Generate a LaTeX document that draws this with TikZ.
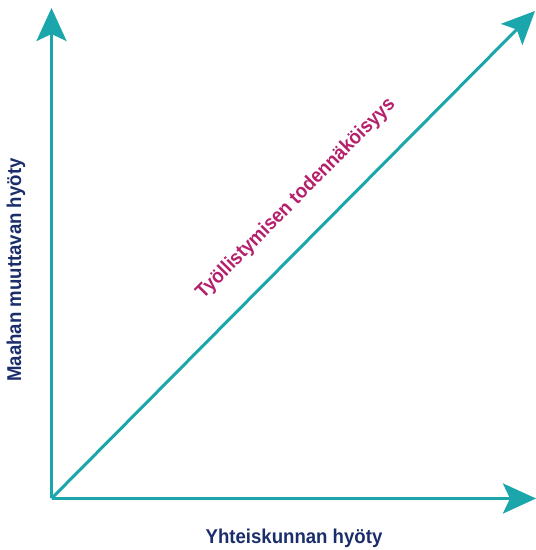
\documentclass[tikz,border=0pt]{standalone}
\usepackage{fontspec}
\setmainfont{Liberation Sans}[FakeStretch=0.93]
\usepackage{tikz}
\usetikzlibrary{arrows.meta}
\definecolor{axisteal}{HTML}{1AA6AB}
\definecolor{labelnavy}{HTML}{1B2E6B}
\definecolor{curvepink}{HTML}{B5206C}
\tikzset{axis/.style={axisteal, line width=3pt, -{Stealth[length=33pt,width=30pt,inset=7pt]}}}
\tikzset{axislabel/.style={font=\fontsize{20}{24}\selectfont\bfseries}}

\begin{document}
\begin{tikzpicture}[x=1pt,y=1pt]
\useasboundingbox (0,0) rectangle (536,550);

\coordinate (O) at (51.5,51.5);
\coordinate (ytip) at (51.5,542);
\coordinate (xtip) at (536,51.5);
\coordinate (dtip) at (535,539);

\draw[axis] (O) -- (ytip);
\draw[axis] (O) -- (xtip);
\draw[axis] (O) -- (dtip);

\node[axislabel,labelnavy,rotate=90] (ylab) at (16,280) {Maahan muuttavan hyöty};
\node[axislabel,labelnavy] (xlab) at (294,12) {Yhteiskunnan hyöty};
\node[axislabel,curvepink,rotate=45.3] (dlab) at (296,351) {Työllistymisen todennäköisyys};

\end{tikzpicture}
\end{document}
